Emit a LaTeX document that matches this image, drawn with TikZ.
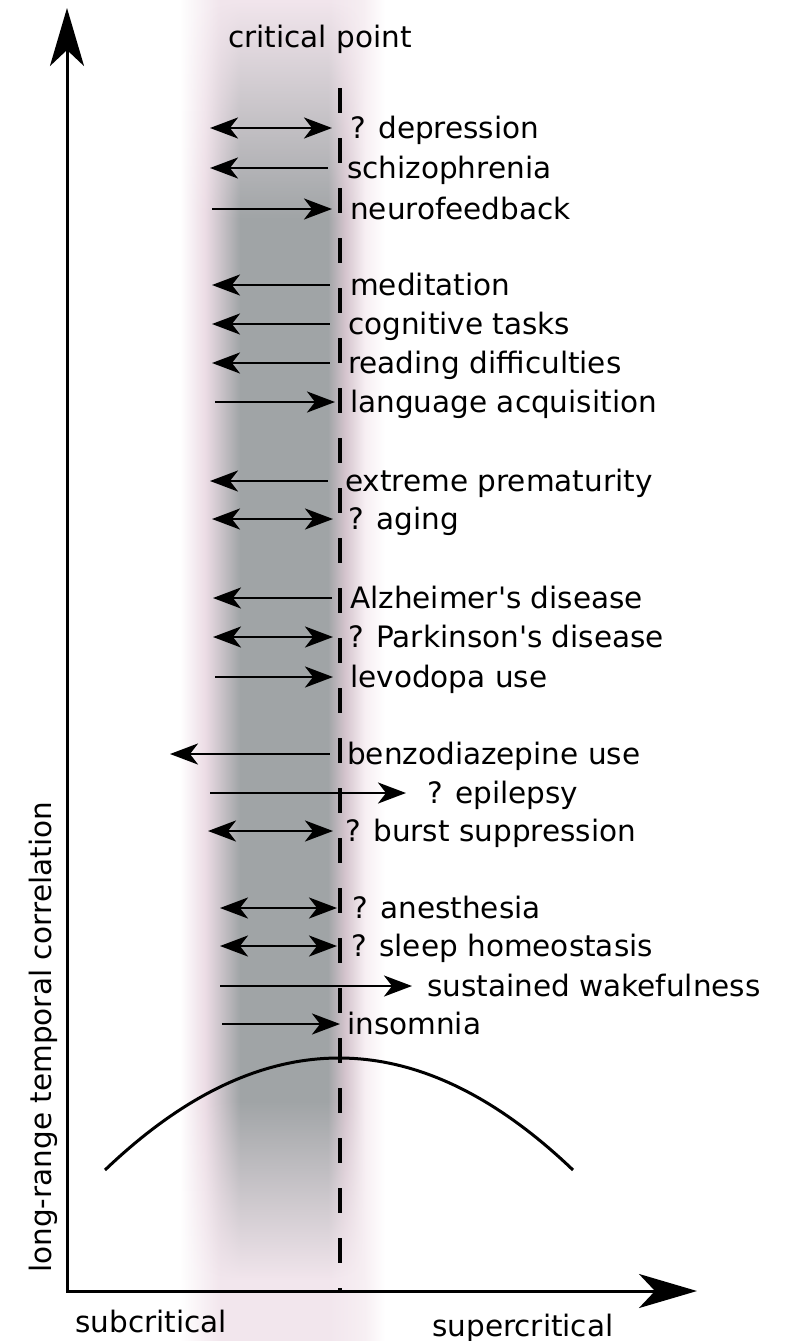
\documentclass[tikz,border=0pt]{standalone}
\usepackage{fontspec}
\setmainfont{DejaVu Sans}
\usetikzlibrary{arrows.meta,fadings}

\definecolor{bandgray}{RGB}{160,164,166}
\definecolor{bandpink}{RGB}{236,220,229}
\definecolor{bandmauve}{RGB}{212,196,205}
\definecolor{bandlight}{RGB}{247,239,243}
\definecolor{toppink}{RGB}{242,230,237}

% horizontal profile of the band (25bp..75bp = path width)
\pgfdeclarehorizontalshading{grayband}{100bp}{color(0bp)=(white); color(25bp)=(white);
  color(30.8bp)=(white); color(35.6bp)=(bandpink); color(42.3bp)=(bandgray);
  color(59.2bp)=(bandgray); color(62.5bp)=(bandmauve); color(66.3bp)=(bandlight);
  color(70.2bp)=(white); color(75bp)=(white); color(100bp)=(white)}
\pgfdeclarehorizontalshading{pinkband}{100bp}{color(0bp)=(white); color(25bp)=(white);
  color(30.8bp)=(white); color(38.5bp)=(toppink); color(59.6bp)=(toppink);
  color(66.3bp)=(bandlight); color(70.2bp)=(white); color(75bp)=(white); color(100bp)=(white)}
\tikzfading[name=fadedown, top color=transparent!0, bottom color=transparent!100]
\tikzfading[name=fadeup, top color=transparent!100, bottom color=transparent!0]

\newcommand{\lblfont}{\fontsize{29.5}{34}\selectfont}

\tikzset{
  >={Stealth[length=28pt,width=21pt,inset=8pt]},
  shaft/.style={line width=2.7pt},
  axisline/.style={line width=3pt, {Stealth[length=58pt,width=34pt,inset=16pt]}-{Stealth[length=58pt,width=34pt,inset=16pt]}},
  lbl/.style={anchor=base west, inner sep=0pt, font=\lblfont},
}

\begin{document}
\begin{tikzpicture}[x=1pt,y=-1pt]
  \useasboundingbox (0,0) rectangle (805,1341);
  % --- blurred band around the critical point ---
  \shade[shading=grayband] (150,0) rectangle (410,1341);
  \shade[shading=pinkband, path fading=fadedown] (150,0) rectangle (410,220);
  \shade[shading=pinkband, path fading=fadeup] (150,1100) rectangle (410,1280);
  \shade[shading=pinkband] (150,1280) rectangle (410,1341);
  % --- axes ---
  \coordinate (origin) at (67,1291);
  \coordinate (ytop) at (67,8);
  \coordinate (xend) at (697,1291);
  \draw[axisline] (ytop) -- (origin) -- (xend);
  % critical point
  \coordinate (cptop) at (340,88);
  \coordinate (cpbot) at (340,1291);
  \draw[line width=4pt, dash pattern=on 25pt off 25pt] (cptop) -- (cpbot);
  % curve
  \draw[line width=3pt] plot[domain=105:573, samples=80] (\x,{1058+112*((\x-339)/234)^2});
  % --- shifts: both directions ---
  \foreach \y/\xl/\xr/\xt/\lab in {128/210/332/350/{? depression}, 519/212/333/348/{? aging},
      637/213/333/348/{? Parkinson\textquotesingle s disease}, 831/208/333/345/{? burst suppression},
      908/220/337/352/{? anesthesia}, 946/220/337/351/{? sleep homeostasis}} {
    \coordinate (a\y) at (\xl,\y);
    \coordinate (b\y) at (\xr,\y);
    \draw[shaft,<->] (a\y) -- (b\y);
    \node[lbl] (t\y) at (\xt,\y+10) {\lab};
  }
  % --- shifts towards subcritical ---
  \foreach \y/\xl/\xr/\xt/\lab in {168/210/328/347/schizophrenia, 285/212/330/350/meditation,
      324/212/330/348/{cognitive tasks}, 363/212/330/348/{reading difficulties},
      481/210/328/345/{extreme prematurity}, 598/213/332/350/{Alzheimer\textquotesingle s disease},
      754/170/330/347/{benzodiazepine use}} {
    \coordinate (a\y) at (\xl,\y);
    \coordinate (b\y) at (\xr,\y);
    \draw[shaft,<-] (a\y) -- (b\y);
    \node[lbl] (t\y) at (\xt,\y+10) {\lab};
  }
  % --- shifts towards supercritical ---
  \foreach \y/\xl/\xr/\xt/\lab in {209/212/332/350/neurofeedback, 402/215/335/350/{language acquisition},
      677/215/333/350/{levodopa use}, 793/210/406/427/{? epilepsy},
      986/220/412/427/{sustained wakefulness}, 1024/222/340/347/insomnia} {
    \coordinate (a\y) at (\xl,\y);
    \coordinate (b\y) at (\xr,\y);
    \draw[shaft,->] (a\y) -- (b\y);
    \node[lbl] (t\y) at (\xt,\y+10) {\lab};
  }
  % --- axis texts ---
  \node[lbl] (cplab) at (228,47) {critical point};
  \node[lbl] (sublab) at (75,1332) {subcritical};
  \node[lbl] (suplab) at (432,1336) {supercritical};
  \node[lbl, rotate=90] (ylab) at (51,1273) {long-range temporal correlation};
\end{tikzpicture}
\end{document}
